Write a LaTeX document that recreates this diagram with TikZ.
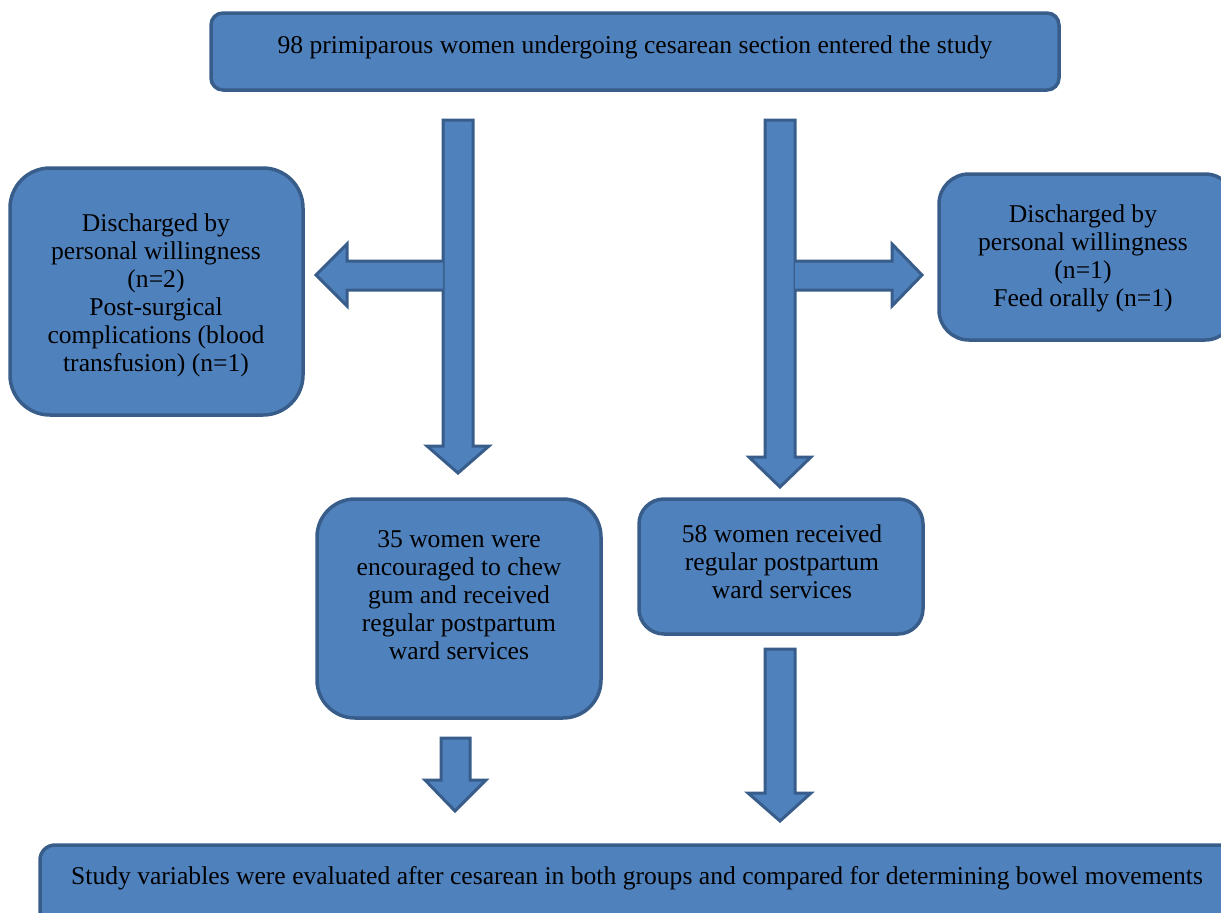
\documentclass[tikz,border=0pt]{standalone}
\usepackage{fontspec}
\setmainfont{Liberation Serif}
\definecolor{boxfill}{HTML}{4F81BD}
\definecolor{boxline}{HTML}{385D8A}
\begin{document}
\begin{tikzpicture}[x=1pt,y=-1pt,
  box/.style={draw=boxline,fill=boxfill,line width=3.5pt},
  txt/.style={align=center,font=\fontsize{25.6}{28}\selectfont,text=black,inner sep=0pt},
  blockarrow/.style={draw=boxline,fill=boxfill,line width=3pt,line join=miter}]
\useasboundingbox (0,0) rectangle (1221,913);
% boxes
\draw[box,rounded corners=12pt] (211,13) rectangle (1059,90);
\node[txt] (top) at (635,47) {98 primiparous women undergoing cesarean section entered the study};
\draw[box,rounded corners=40pt] (10,168) rectangle (303,415);
\node[txt] (left) at (156,295) {Discharged by\\personal willingness\\(n=2)\\Post-surgical\\complications (blood\\transfusion) (n=1)};
\draw[box,rounded corners=30pt] (939,174) rectangle (1235,340);
\node[txt] (right) at (1083,258) {Discharged by\\personal willingness\\(n=1)\\Feed orally (n=1)};
\draw[box,rounded corners=38pt] (317,499) rectangle (601,718);
\node[txt] (gum) at (459,595) {35 women were\\encouraged to chew\\gum and received\\regular postpartum\\ward services};
\draw[box,rounded corners=25pt] (639,499) rectangle (923,634);
\node[txt] (reg) at (782,562) {58 women received\\regular postpartum\\ward services};
\draw[box,rounded corners=15pt] (40,845) rectangle (1240,940);
\node[txt] (bottom) at (637,878) {Study variables were evaluated after cesarean in both groups and compared for determining bowel movements};
% block arrows
\draw[blockarrow] (443,120) -- (473,120) -- (473,446) -- (489,446) -- (458,473) -- (427,446) -- (443,446) -- cycle;
\draw[blockarrow] (443,261) -- (347,261) -- (347,244) -- (316,275) -- (347,306) -- (347,290) -- (443,290);
\draw[blockarrow] (765,120) -- (795,120) -- (795,457) -- (811,457) -- (780,487) -- (749,457) -- (765,457) -- cycle;
\draw[blockarrow] (795,261) -- (892,261) -- (892,244) -- (922,275) -- (892,306) -- (892,290) -- (795,290);
\draw[blockarrow] (441,738) -- (470,738) -- (470,780) -- (486,780) -- (455,811) -- (425,780) -- (441,780) -- cycle;
\draw[blockarrow] (765,649) -- (795,649) -- (795,793) -- (811,793) -- (780,821) -- (748,793) -- (765,793) -- cycle;
\end{tikzpicture}
\end{document}
